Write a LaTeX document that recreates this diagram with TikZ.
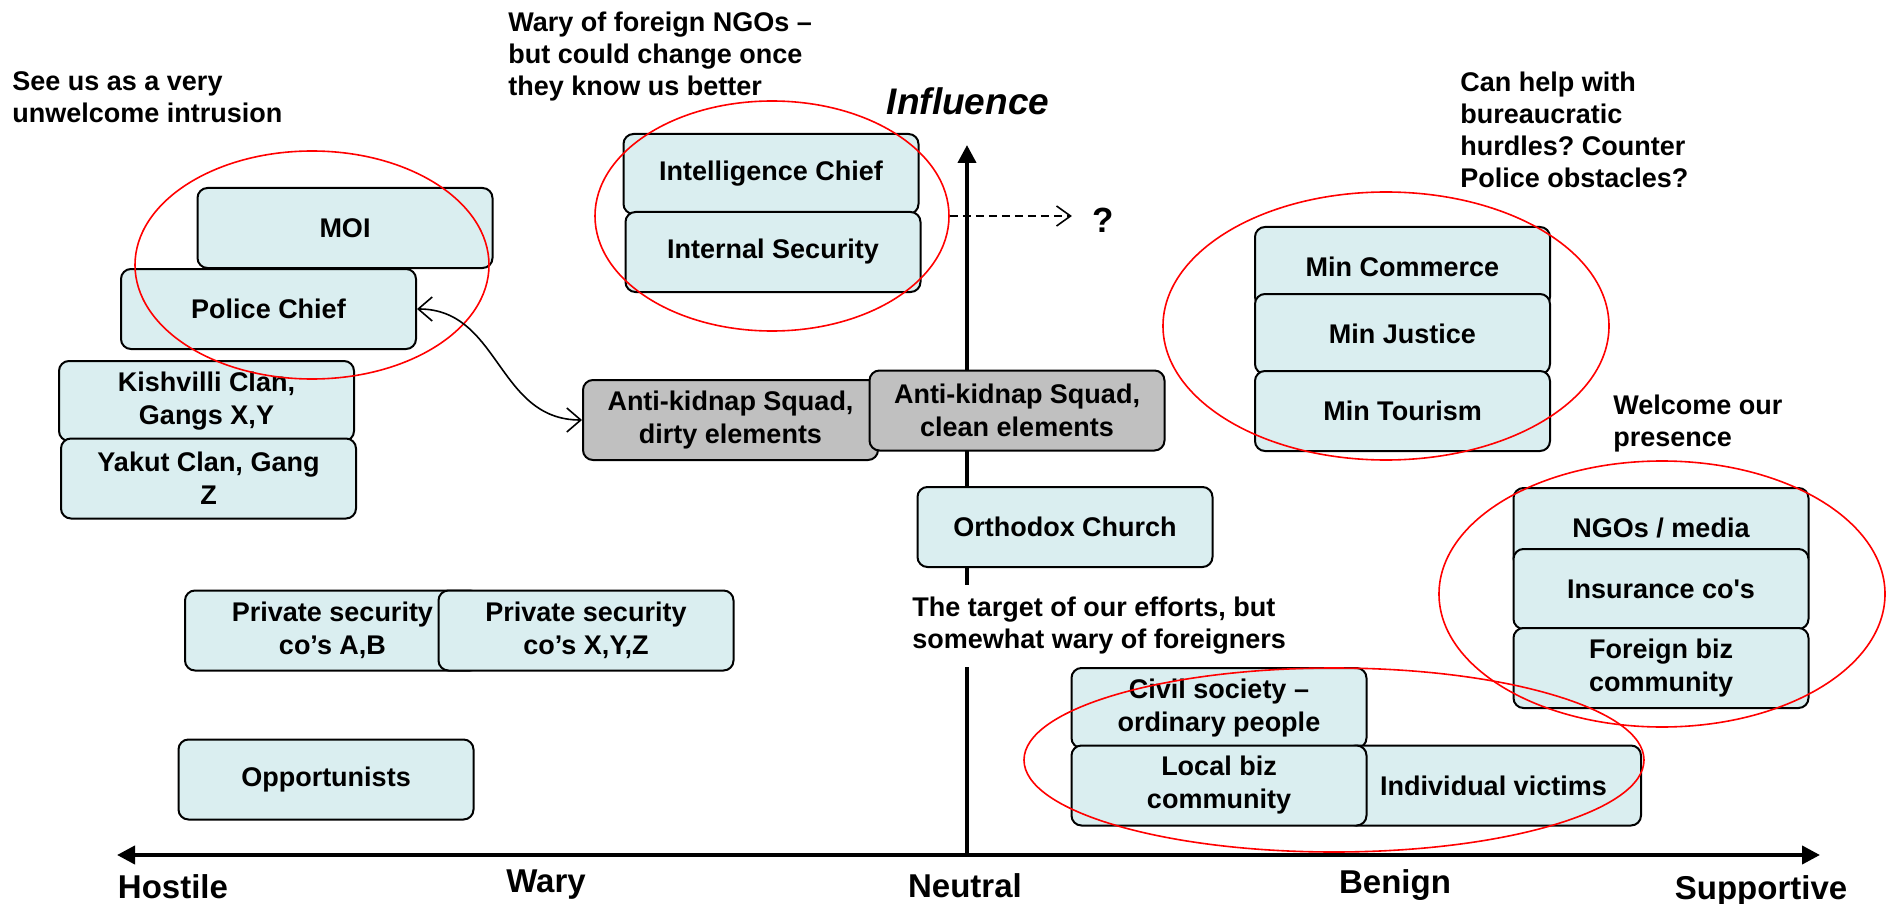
\documentclass[tikz,border=0pt]{standalone}
\usepackage{fontspec}
\setmainfont{Liberation Sans}
\usetikzlibrary{positioning, shapes.geometric, arrows.meta}
\definecolor{stakeblue}{RGB}{218,238,240}
\definecolor{stakegray}{RGB}{192,192,192}
\frenchspacing

\begin{document}
\begin{tikzpicture}[x=0.5pt, y=-0.5pt,
	stake/.style={draw, line width=1pt, rounded corners=5pt, fill=stakeblue, minimum width=147.5pt, minimum height=40pt, align=center, inner sep=2pt, font=\fontsize{13.5}{16.5}\selectfont\bfseries},
	squad/.style={stake, fill=stakegray},
	note/.style={align=left, inner sep=0pt, anchor=north west, font=\fontsize{13.5}{16}\selectfont\bfseries},
	ring/.style={draw=red, line width=0.8pt, ellipse, inner sep=0pt},
	axislabel/.style={anchor=base, font=\fontsize{16.5}{20}\selectfont\bfseries}]
			\useasboundingbox (0,0) rectangle (1887,904);
			
			% axes
			\coordinate (origin) at (967,855);
			\coordinate (hostend) at (117,855);
			\coordinate (suppend) at (1820,855);
			\coordinate (inflend) at (967,145);
			\draw[line width=2pt, {Triangle[length=9pt,width=9pt]}-{Triangle[length=9pt,width=9pt]}] (hostend) -- (suppend);
			\draw[line width=2pt, -{Triangle[length=9pt,width=9pt]}] (origin) -- (inflend);
			\node[anchor=base, font=\fontsize{18.5}{22}\selectfont\bfseries\itshape] (influence) at (968,115) {Influence};
			
			\foreach \x/\y/\lab in {173/898/Hostile, 546/892/Wary, 965/897/Neutral, 1395/893/Benign, 1761/899/Supportive}
				\node[axislabel] (\lab) at (\x,\y) {\lab};
			
			% stakeholders
			\foreach \name/\x/\y/\txt in {moi/345/228/{MOI}, police/268.5/309/{Police Chief},
				kishvilli/206.5/401/{Kishvilli Clan,\\Gangs X,Y}, yakut/208.5/478.5/{Yakut Clan, Gang\\Z},
				intel/771/174/{Intelligence Chief}, internal/773/252/{Internal Security},
				church/1065/527/{Orthodox Church},
				privab/332.5/630.5/{Private security\\co’s A,B}, privxyz/586/630.5/{Private security\\co’s X,Y,Z},
				opport/326/779.5/{Opportunists},
				commerce/1402.5/267/{Min Commerce}, justice/1402.5/334/{Min Justice}, tourism/1402.5/411/{Min Tourism},
				ngos/1661/528/{NGOs / media}, insurance/1661/589/{Insurance co\textquotesingle s}, foreignbiz/1661/668/{Foreign biz\\community},
				civil/1219/708/{Civil society –\\ordinary people}, victims/1493.5/785.5/{Individual victims},
				localbiz/1219/785.5/{Local biz\\community}}
				\node[stake] (\name) at (\x,\y) {\txt};
			
			\node[squad] (dirty) at (730.5,420) {Anti-kidnap Squad,\\dirty elements};
			\node[squad] (clean) at (1017,410.5) {Anti-kidnap Squad,\\clean elements};
			
			% comments on groups
			\node[note] (hostnote) at (12,71) {See us as a very\\unwelcome intrusion};
			\node[note] (warynote) at (508,12) {Wary of foreign NGOs –\\but could change once\\they know us better};
			\node[note] (helpnote) at (1460,72) {Can help with\\bureaucratic\\hurdles? Counter\\Police obstacles?};
			\node[note] (welcnote) at (1613,395) {Welcome our\\presence};
			\node[note, fill=white, inner ysep=6pt] (targnote) at (912,585) {The target of our efforts, but\\somewhat wary of foreigners};
			
			% groupings
			\node[ring, minimum width=177pt, minimum height=114pt] (moiring) at (312,265) {};
			\node[ring, minimum width=177pt, minimum height=115pt] (intelring) at (772,216) {};
			\node[ring, minimum width=223pt, minimum height=134pt] (minring) at (1386,326) {};
			\node[ring, minimum width=223pt, minimum height=133pt] (ngoring) at (1662,594) {};
			\node[ring, minimum width=310pt, minimum height=92pt] (civilring) at (1334,760) {};
			
			\node[anchor=base, inner sep=0pt, font=\fontsize{17.5}{20}\selectfont\bfseries] (qmark) at (1103,233) {?};
			\draw[line width=0.8pt, dash pattern=on 4pt off 2.5pt, -{Straight Barb[length=7pt,width=10pt]}] (intelring.east) -- ([xshift=-10pt]intelring.east -| qmark.west);
			\draw[line width=0.8pt, {Straight Barb[length=7pt,width=12pt]}-{Straight Barb[length=7pt,width=12pt]}] (police.east) .. controls +(83,0) and +(-85,0) .. (dirty.west);
\end{tikzpicture}
\end{document}
